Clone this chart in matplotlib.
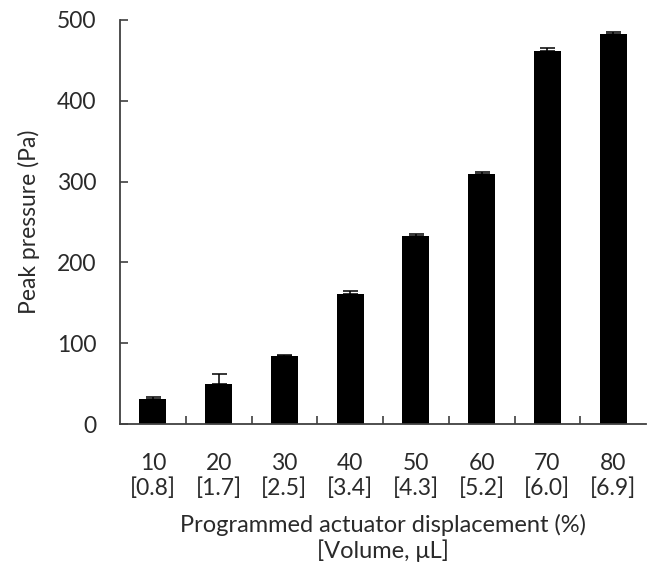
import matplotlib
matplotlib.use("Agg")
import matplotlib.pyplot as plt
import numpy as np

displacement = ["10", "20", "30", "40", "50", "60", "70", "80"]
volume = ["0.8", "1.7", "2.5", "3.4", "4.3", "5.2", "6.0", "6.9"]
peak_pressure = [30.8, 50, 84, 161, 233, 309, 462, 482]
error_upper = [2.8, 11.7, 1.5, 4, 2, 3, 3.3, 3]

plt.rcParams['font.family'] = ['Lato', 'DejaVu Sans']

FS = 16.5
TXT = '#2a2a2a'

fig = plt.figure(figsize=(6.47, 5.74), dpi=100)
ax = fig.add_axes([120/647, 1-424.2/574, 526/647, (424.2-19.8)/574])

x = np.arange(len(displacement))
yerr = np.array([np.zeros(len(error_upper)), error_upper])
ax.bar(x, peak_pressure, width=0.41, color='black', zorder=2)
ax.errorbar(x, peak_pressure, yerr=yerr, fmt='none', ecolor='black',
            elinewidth=1.1, capsize=5.4, capthick=1.1, zorder=3)

ax.set_xlim(-0.5, len(x) - 0.5)
ax.set_ylim(0, 500)
ax.set_yticks([0, 100, 200, 300, 400, 500])

ax.set_xticks(x)
ax.set_xticklabels([f"{d}\n[{v}]" for d, v in zip(displacement, volume)],
                   fontsize=FS, color=TXT, linespacing=1.15)
ax.set_xticks(np.arange(0.5, len(x) - 0.5, 1), minor=True)
ax.tick_params(axis='x', which='major', length=0, pad=21)
ax.tick_params(axis='x', which='minor', direction='in', length=5.8, width=1.2, color='#404040')
ax.tick_params(axis='y', direction='in', length=5.8, width=1.2, color='#404040',
               labelsize=FS, labelcolor=TXT, pad=17)

for s in ['top', 'right']:
    ax.spines[s].set_visible(False)
for s in ['left', 'bottom']:
    ax.spines[s].set_color('#404040')
    ax.spines[s].set_linewidth(1.3)

ax.set_xlabel("Programmed actuator displacement (%)\n[Volume, μL]", fontsize=17,
              color=TXT, labelpad=11, linespacing=1.2)
ax.set_ylabel("Peak pressure (Pa)", fontsize=FS, color=TXT, labelpad=12)

fig.savefig("out.png", dpi=100)
